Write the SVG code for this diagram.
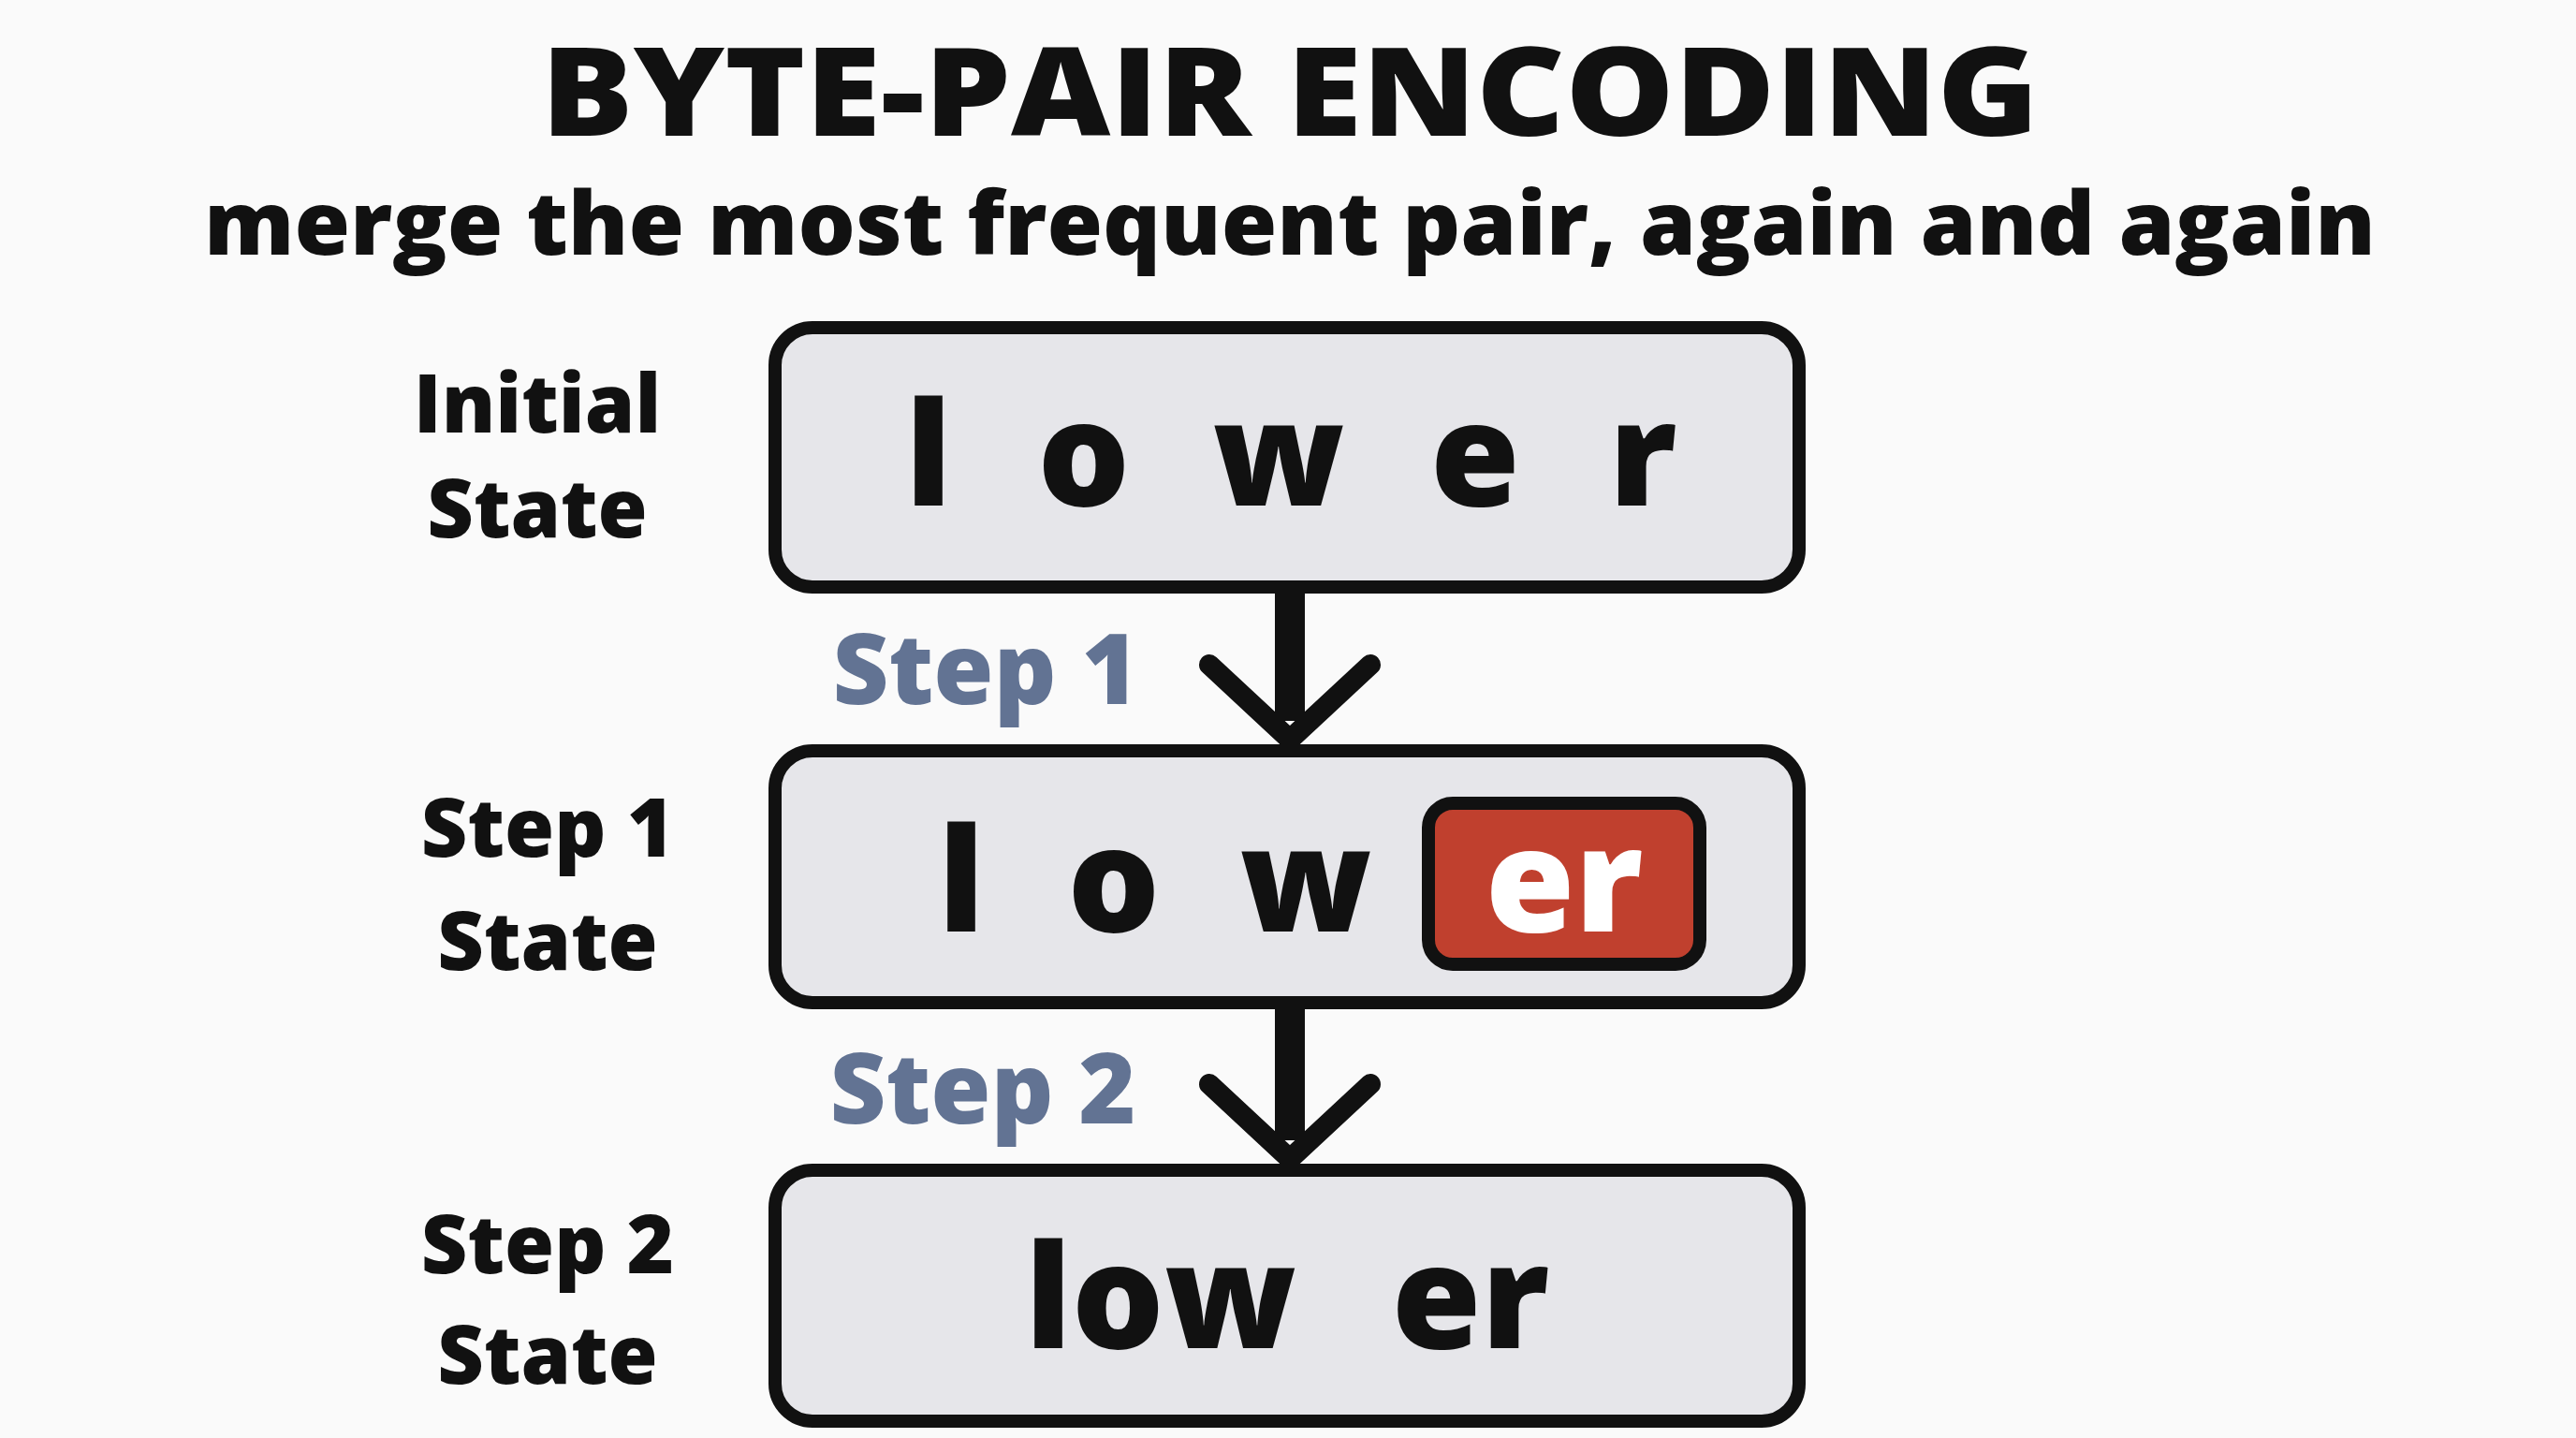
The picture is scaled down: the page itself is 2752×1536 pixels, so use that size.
<svg xmlns="http://www.w3.org/2000/svg" width="2752" height="1536" viewBox="0 0 2752 1536">
<style>
text{font-family:"Open Sans","Liberation Sans",sans-serif;font-weight:800;text-anchor:middle;fill:#111}
.box{fill:#e6e6ea;stroke:#111;stroke-width:14}
.lab{font-size:86px}
.step{font-size:104px;fill:#627393}
.tok{font-size:155px}
.shaft{fill:none;stroke:#111;stroke-width:32}
.head{fill:none;stroke:#111;stroke-width:22;stroke-linecap:round}
</style>
<rect width="2752" height="1536" fill="#fafafa"/>
<text x="1378" y="145" font-size="132" textLength="1600" lengthAdjust="spacingAndGlyphs">BYTE-PAIR ENCODING</text>
<text x="1378" y="272" font-size="94" textLength="2320" lengthAdjust="spacingAndGlyphs">merge the most frequent pair, again and again</text>
<g id="labels">
<text class="lab" x="574" y="462">Initial</text><text class="lab" x="574" y="574">State</text>
<text class="lab" x="585" y="915">Step 1</text><text class="lab" x="585" y="1036">State</text>
<text class="lab" x="585" y="1360">Step 2</text><text class="lab" x="585" y="1478">State</text>
</g>
<g id="box1"><rect class="box" x="828" y="350" width="1094" height="277" rx="40"/>
<text class="tok" x="992" y="540">l</text><text class="tok" x="1158" y="540">o</text><text class="tok" x="1366" y="540">w</text><text class="tok" x="1576" y="540">e</text><text class="tok" x="1755" y="540">r</text></g>
<g id="box2"><rect class="box" x="828" y="802" width="1094" height="269" rx="40"/>
<text class="tok" x="1027" y="995">l</text><text class="tok" x="1190" y="995">o</text><text class="tok" x="1395" y="995">w</text>
<rect x="1526" y="858" width="290" height="172" rx="26" fill="#c0402e" stroke="#111" stroke-width="14"/>
<text class="tok" x="1671" y="995" style="fill:#fff">er</text></g>
<g id="box3"><rect class="box" x="828" y="1250" width="1094" height="268" rx="40"/>
<text class="tok" x="1240" y="1440">low</text><text class="tok" x="1571" y="1440">er</text></g>
<g id="connectors">
<path class="shaft" d="M1378 632V770"/><path class="head" d="M1292 710L1378 790L1464 710"/>
<path class="shaft" d="M1378 1074V1218"/><path class="head" d="M1292 1158L1378 1238L1464 1158"/>
</g>
<text class="step" x="1053" y="752">Step 1</text>
<text class="step" x="1050" y="1200">Step 2</text>
</svg>
